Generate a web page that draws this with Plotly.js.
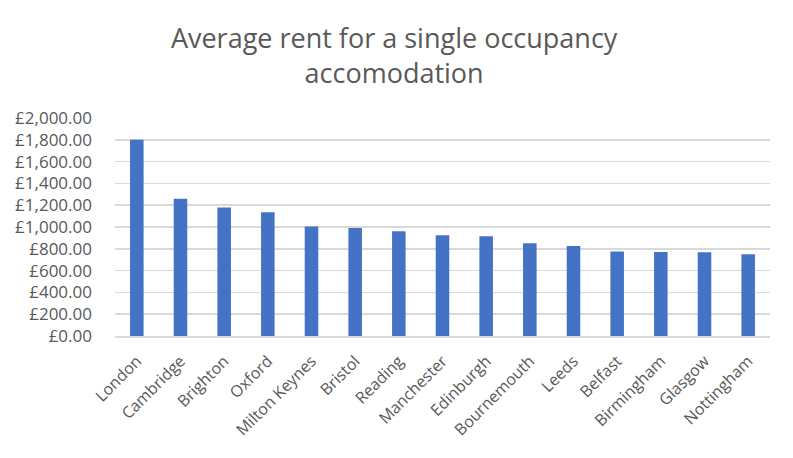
<!DOCTYPE html>
<html>
<head>
<meta charset="utf-8">
<script src="https://cdn.plot.ly/plotly-3.0.1.min.js"></script>
<style>html,body{margin:0;padding:0;background:#fff;}#chart{width:793px;height:458px;}</style>
</head>
<body>
<div id="chart"></div>
<script>
const cities = ["London","Cambridge","Brighton","Oxford","Milton Keynes","Bristol","Reading","Manchester","Edinburgh","Bournemouth","Leeds","Belfast","Birmingham","Glasgow","Nottingham"];
const rents = [1800,1260,1180,1135,1005,990,960,925,915,850,825,775,770,768,750];
const yTickVals = [0,200,400,600,800,1000,1200,1400,1600,1800,2000];
const yTickText = yTickVals.map(v => "\u00A3" + v.toLocaleString("en-GB", {minimumFractionDigits: 2, maximumFractionDigits: 2}));

const textColor = "#595959";
const trace = {
  type: "bar",
  x: cities,
  y: rents,
  marker: {color: "#4472C4"},
  hoverinfo: "x+y"
};
const layout = {
  width: 793, height: 458,
  margin: {l: 115, r: 23, t: 118, b: 122},
  paper_bgcolor: "#fff", plot_bgcolor: "#fff",
  font: {family: "Open Sans, sans-serif", color: textColor},
  title: {
    text: "Average rent for a single occupancy<br>accomodation",
    font: {size: 27, color: textColor, family: "Open Sans, sans-serif"},
    x: 0.497, xanchor: "center", y: 0.895, yanchor: "top"
  },
  bargap: 0.69,
  showlegend: false,
  xaxis: {
    type: "category",
    tickangle: -45,
    tickfont: {size: 16, color: textColor},
    showgrid: false,
    showline: true, linecolor: "#d9d9d9", linewidth: 1.5,
    ticks: "", ticklen: 0,
    ticklabelstandoff: 8
  },
  yaxis: {
    range: [0, 2000],
    tickmode: "array",
    tickvals: yTickVals,
    ticktext: yTickText,
    tickfont: {size: 17, color: textColor},
    showgrid: true, gridcolor: "#d9d9d9", gridwidth: 1.5,
    zeroline: false, showline: false,
    ticks: "", ticklabelstandoff: 22
  }
};
Plotly.newPlot("chart", [trace], layout, {displayModeBar: false, staticPlot: true});
</script>
</body>
</html>
